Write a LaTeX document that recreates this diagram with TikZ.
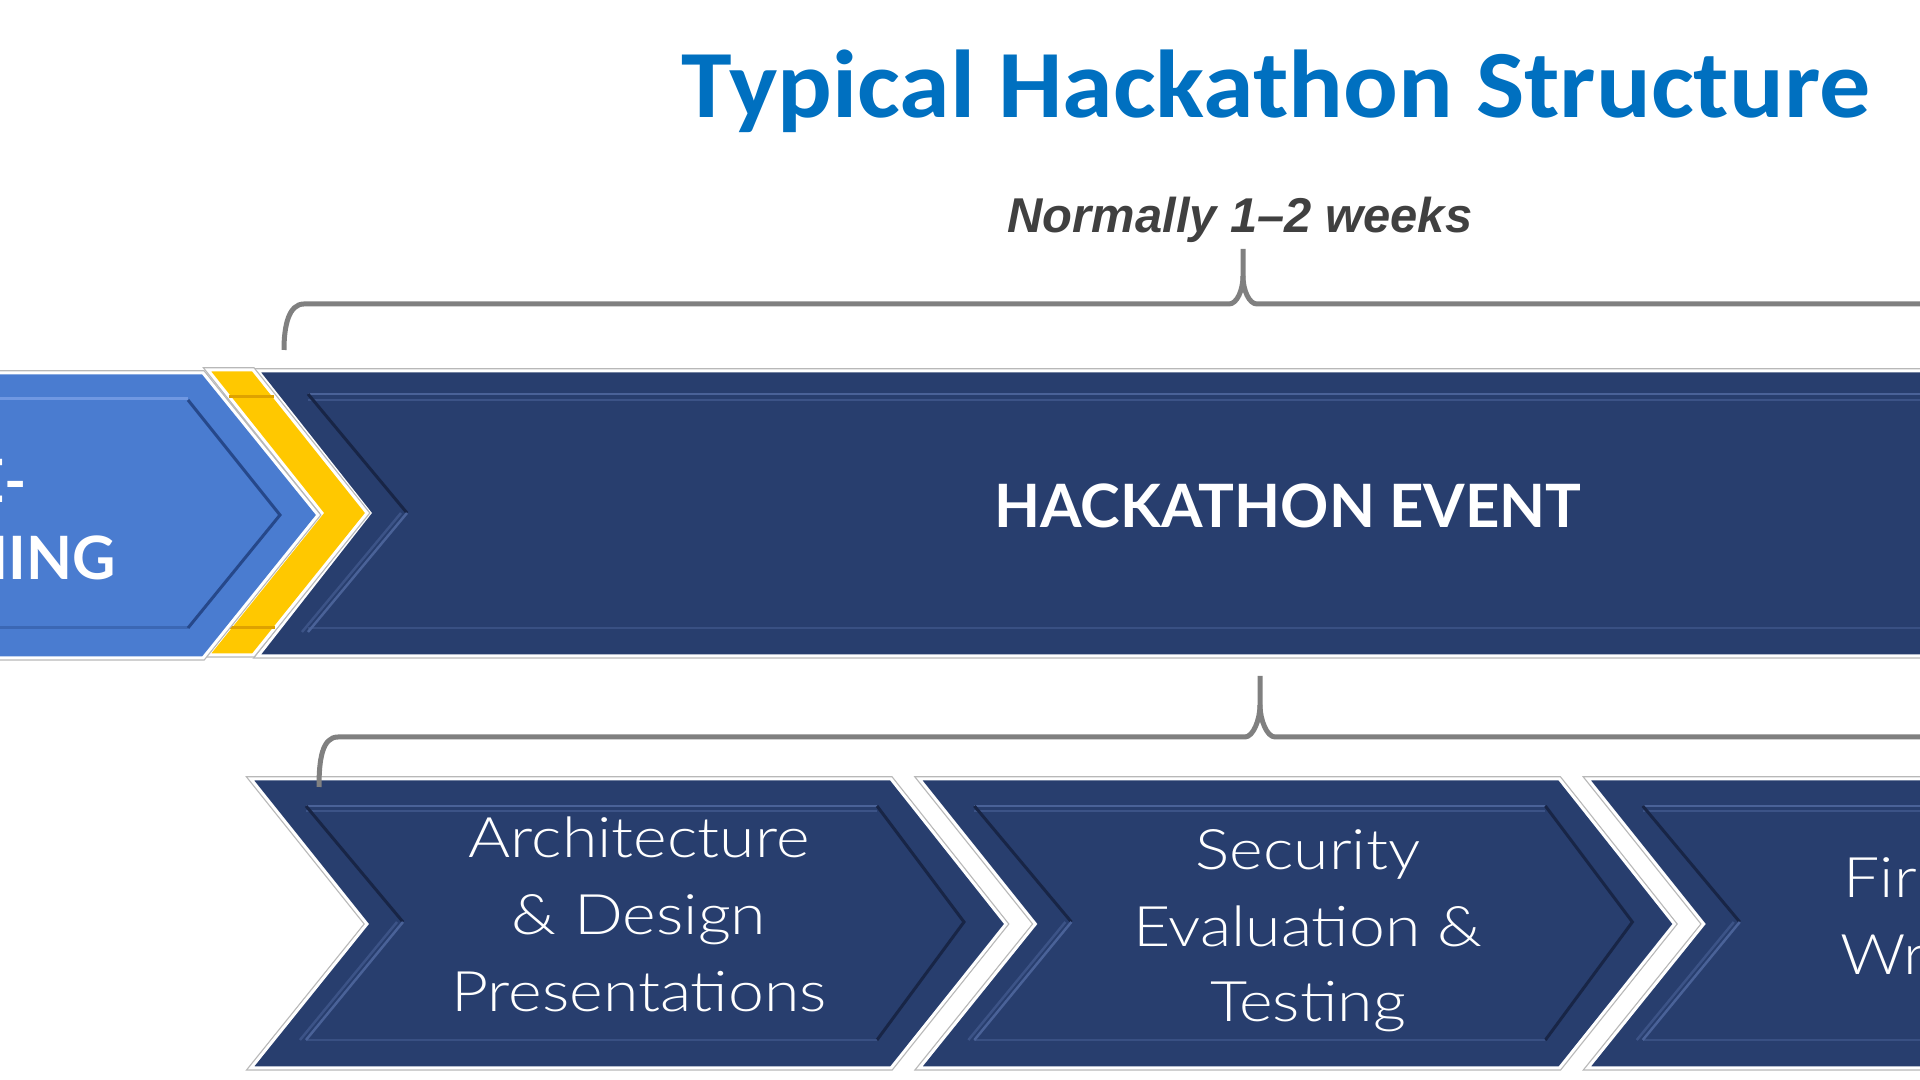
\documentclass[tikz,border=0pt]{standalone}
\usepackage{fontspec}
\setmainfont{Lato}
\newfontfamily\titlefont{Carlito}[FakeStretch=1.06]
\newfontfamily\notefont{Liberation Sans}
\newfontfamily\capsfont{Lato}
\IfFontExistsTF{Lato Light}{\newfontfamily\lightfont{Lato Light}[FakeStretch=1.15]}{\newfontfamily\lightfont{Lato}[FakeStretch=1.1]}
\definecolor{navy}{RGB}{40,62,110}
\definecolor{navyhl}{RGB}{74,98,152}
\definecolor{navysh}{RGB}{24,37,70}
\definecolor{pblue}{RGB}{74,124,208}
\definecolor{pbluehl}{RGB}{112,152,226}
\definecolor{pbluesh}{RGB}{38,72,138}
\definecolor{gold}{RGB}{255,200,0}
\definecolor{goldsh}{RGB}{222,162,0}
\definecolor{bracegray}{RGB}{128,128,128}
\definecolor{titleblue}{RGB}{0,112,192}
\definecolor{notegray}{RGB}{64,64,64}
\tikzset{
  outshadow/.style={draw=black!28, line width=0.055cm, line join=miter},
  shapeline/.style={draw=white, line width=0.03cm, line join=miter},
  hl/.style={draw=navyhl, line width=0.025cm},
  sh/.style={draw=navysh, line width=0.03cm},
  brace/.style={draw=bracegray, line width=0.05cm, line cap=butt, line join=round},
  btext/.style={font=\lightfont\fontsize{15.9pt}{21.6pt}\selectfont, text=white, inner sep=0pt},
  captext/.style={font=\capsfont\bfseries\fontsize{17pt}{22pt}\selectfont, text=white, inner sep=0pt},
}
\begin{document}
\begin{tikzpicture}[x=0.01cm, y=-0.01cm]
\useasboundingbox (0,0) rectangle (1920,1080);
\fill[white] (0,0) rectangle (1920,1080);
\clip (0,0) rectangle (1920,1080);

% ---------- title and note ----------
\node[font=\titlefont\bfseries\fontsize{27.4pt}{30pt}\selectfont, text=titleblue, anchor=base, inner sep=0pt] (title) at (1276,118) {Typical Hackathon Structure};
\node[font=\notefont\bfseries\itshape\fontsize{13.9pt}{16pt}\selectfont, text=notegray, anchor=base, inner sep=0pt] (note) at (1240,233) {Normally 1–2 weeks};

% ---------- hackathon event band ----------
\draw[outshadow] (258,371) -- (2000,371) -- (2000,656) -- (258,656) -- (370,513) -- cycle;
\fill[navy, shapeline] (258,371) -- (2000,371) -- (2000,656) -- (258,656) -- (370,513) -- cycle;
\draw[hl] (308,394) -- (2000,394);
\draw[hl, draw opacity=0.6] (308,400) -- (2000,400);
\draw[sh] (308,394) -- (407,513);
\draw[hl] (407,513) -- (308,632);
\draw[hl, draw opacity=0.6] (401,513) -- (302,632);
\draw[hl, draw opacity=0.5] (308,628) -- (2000,628);
\node[captext, anchor=base] (event) at (1288,528) {HACKATHON EVENT};

% ---------- yellow chevron ----------
\draw[outshadow] (208,370) -- (253,370) -- (367,513) -- (253,655) -- (208,655) -- (322,513) -- cycle;
\fill[gold, shapeline] (208,370) -- (253,370) -- (367,513) -- (253,655) -- (208,655) -- (322,513) -- cycle;
\draw[goldsh, line width=0.03cm] (229,397) -- (274,397);
\draw[goldsh, line width=0.03cm] (230,628) -- (275,628);

% ---------- pre-planning shape ----------
\draw[outshadow] (-100,373) -- (203,373) -- (318,515) -- (203,658) -- (-100,658) -- cycle;
\fill[pblue, shapeline] (-100,373) -- (203,373) -- (318,515) -- (203,658) -- (-100,658) -- cycle;
\draw[pbluehl, line width=0.03cm] (-100,399) -- (188,399);
\draw[pbluesh, line width=0.03cm] (188,400) -- (280,515) -- (188,628);
\draw[pbluesh, draw opacity=0.4, line width=0.03cm] (-100,628) -- (188,628);
\node[captext, anchor=base] (pre1) at (-39,503) {PRE-};
\node[captext, anchor=base] (pre2) at (-39,580) {PLANNING};

% ---------- bottom chevrons ----------
\foreach \i/\dx in {1/0,2/6.68,3/13.36}{
  \begin{scope}[xshift=\dx cm]
    \draw[outshadow] (251,779) -- (891,779) -- (1006,924) -- (891,1068) -- (251,1068) -- (367,924) -- cycle;
    \fill[navy, shapeline] (251,779) -- (891,779) -- (1006,924) -- (891,1068) -- (251,1068) -- (367,924) -- cycle;
    \draw[hl] (306,806) -- (877,806);
    \draw[hl, draw opacity=0.6] (306,811) -- (877,811);
    \draw[sh] (877,806) -- (964,922) -- (877,1040);
    \draw[sh] (306,806) -- (403,922);
    \draw[hl] (403,922) -- (306,1040);
    \draw[hl, draw opacity=0.6] (397,922) -- (300,1040);
    \draw[hl, draw opacity=0.5] (306,1040) -- (877,1040);
  \end{scope}
}
\node[btext, anchor=base] (a1) at (639,858) {Architecture};
\node[btext, anchor=base] (a2) at (639,935) {\& Design};
\node[btext, anchor=base] (a3) at (639,1012) {Presentations};
\node[btext, anchor=base] (s1) at (1308,870) {Security};
\node[btext, anchor=base] (s2) at (1308,947) {Evaluation \&};
\node[btext, anchor=base] (s3) at (1308,1022) {Testing};
\node[btext, anchor=base west] (f1) at (1843,898) {Fir};
\node[btext, anchor=base west] (f2) at (1840,975) {Wr};

% ---------- braces ----------
\coordinate (tb-left) at (284,350);
\coordinate (tb-tip) at (1243,249);
\coordinate (tb-right) at (1930,304);
\draw[brace] (tb-left) .. controls (284,325) and (289,304) .. (304,304) -- (1229,304) .. controls (1237,304) and (1243,290) .. (1243,276) -- (tb-tip);
\draw[brace] (1243,276) .. controls (1243,290) and (1249,304) .. (1257,304) -- (tb-right);

\coordinate (bb-left) at (319,787);
\coordinate (bb-tip) at (1260,676);
\coordinate (bb-right) at (1930,737);
\draw[brace] (bb-left) .. controls (319,760) and (322,737) .. (338,737) -- (1245,737) .. controls (1253,737) and (1260,720) .. (1260,705) -- (bb-tip);
\draw[brace] (1260,705) .. controls (1260,720) and (1267,737) .. (1275,737) -- (bb-right);
\end{tikzpicture}
\end{document}
